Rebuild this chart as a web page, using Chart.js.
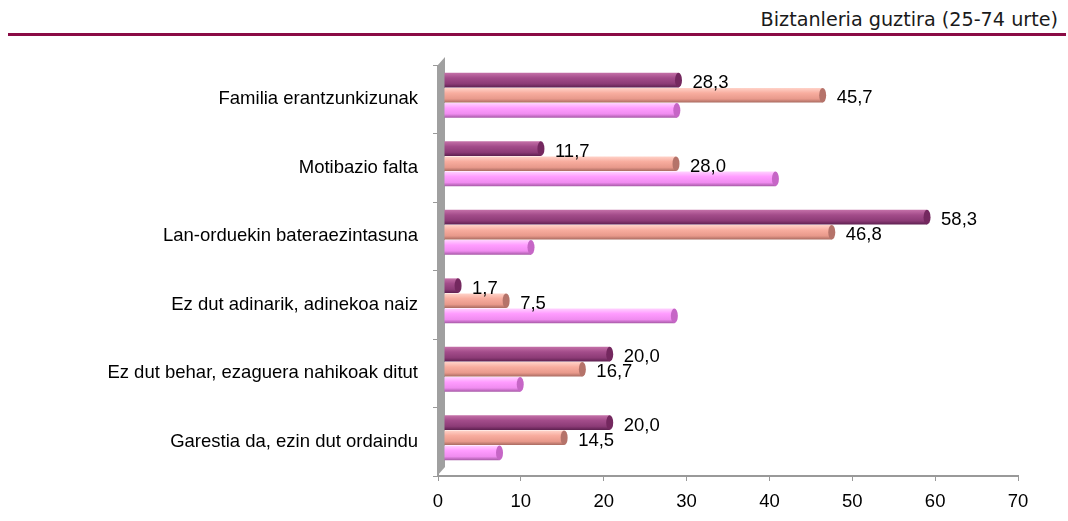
<!DOCTYPE html>
<html lang="eu">
<head>
    <meta charset="UTF-8">
    <title>Biztanleria guztira (25-74 urte)</title>
    <script src="https://cdn.jsdelivr.net/npm/chart.js"></script>
    <style>
        body { margin: 0; background: #fff; }
        .wrap { position: relative; width: 1068px; height: 521px; overflow: hidden; }
        .title {
            position: absolute; right: 10px; top: 9px;
            font-family: "DejaVu Sans", sans-serif; font-size: 19.2px; line-height: 22px;
            color: #1a1a1a;
        }
        .rule { position: absolute; left: 8px; top: 33px; width: 1058px; height: 3px; background: #8a0b45; }
        canvas { position: absolute; left: 0; top: 0; }
    </style>
</head>
<body>
<div class="wrap">
    <div class="title">Biztanleria guztira (25-74 urte)</div>
    <div class="rule"></div>
    <canvas id="chart" width="1068" height="521"></canvas>
</div>

<script>
// categories, top to bottom
const categories = [
    'Familia erantzunkizunak',
    'Motibazio falta',
    'Lan-orduekin bateraezintasuna',
    'Ez dut adinarik, adinekoa naiz',
    'Ez dut behar, ezaguera nahikoak ditut',
    'Garestia da, ezin dut ordaindu'
];

// three series (only the first two carry value labels in the original)
const series1 = [28.3, 11.7, 58.3, 1.7, 20.0, 20.0];
const series2 = [45.7, 28.0, 46.8, 7.5, 16.7, 14.5];
const series3 = [28.1, 40.0, 10.5, 27.8, 9.2, 6.7];

const xTicks = [0, 10, 20, 30, 40, 50, 60, 70];

// shading for the cylinder look: [top, upper, lower, bottom], cap
const palettes = [
    { stops: ['#c470a8', '#a34c8a', '#8c3b76', '#5e2050'], cap: '#74285f' },
    { stops: ['#ffd3c9', '#f8ad9f', '#e8998b', '#a86a60'], cap: '#b5736a' },
    { stops: ['#ffd2ff', '#ff9cff', '#f08cf0', '#a85aa8'], cap: '#c666c6' }
];

const DX = 6, DY = -4;   // depth shift of the bars

const fmt = v => v.toFixed(1).replace('.', ',');

const depthPlugin = {
    id: 'depth',
    beforeDatasetsDraw(chart) {
        const ctx = chart.ctx;
        const ca = chart.chartArea;

        // grey back wall
        ctx.save();
        ctx.fillStyle = '#a0a0a0';
        ctx.beginPath();
        ctx.moveTo(ca.left - 1, ca.top + 1);
        ctx.lineTo(ca.left + 7, ca.top - 8);
        ctx.lineTo(ca.left + 7, ca.bottom - 9);
        ctx.lineTo(ca.left - 1, ca.bottom);
        ctx.closePath();
        ctx.fill();
        ctx.restore();

        // gradients per bar
        chart.data.datasets.forEach((ds, i) => {
            const p = palettes[i];
            chart.getDatasetMeta(i).data.forEach(el => {
                const top = el.y - el.height / 2;
                const g = ctx.createLinearGradient(0, top, 0, top + el.height);
                g.addColorStop(0, p.stops[0]);
                g.addColorStop(0.35, p.stops[1]);
                g.addColorStop(0.75, p.stops[2]);
                g.addColorStop(1, p.stops[3]);
                el.options.backgroundColor = g;
            });
        });

        ctx.save();
        ctx.translate(DX, DY);
    },
    afterDatasetsDraw(chart) {
        const ctx = chart.ctx;
        // end caps of the cylinders
        chart.data.datasets.forEach((ds, i) => {
            chart.getDatasetMeta(i).data.forEach(el => {
                ctx.beginPath();
                ctx.ellipse(el.x, el.y, 3.5, el.height / 2, 0, 0, Math.PI * 2);
                ctx.fillStyle = palettes[i].cap;
                ctx.fill();
            });
        });
        ctx.restore();

        // value labels for the first two series
        ctx.save();
        ctx.font = '18.5px "Liberation Sans", Arial, sans-serif';
        ctx.fillStyle = '#000';
        ctx.textBaseline = 'middle';
        ctx.textAlign = 'left';
        [0, 1].forEach(i => {
            const ds = chart.data.datasets[i];
            chart.getDatasetMeta(i).data.forEach((el, j) => {
                ctx.fillText(fmt(ds.data[j]), el.x + 20, el.y - 1);
            });
        });
        ctx.restore();
    }
};

const baseColor = c => () => c;

new Chart(document.getElementById('chart'), {
    type: 'bar',
    data: {
        labels: categories,
        datasets: [
            { label: 'Serie 1', data: series1, backgroundColor: baseColor('#a34c8a') },
            { label: 'Serie 2', data: series2, backgroundColor: baseColor('#f8ad9f') },
            { label: 'Serie 3', data: series3, backgroundColor: baseColor('#ff9cff') }
        ]
    },
    options: {
        indexAxis: 'y',
        responsive: false,
        animation: false,
        layout: { padding: { top: 65, right: 50, bottom: 0, left: 0 } },
        datasets: {
            bar: { categoryPercentage: 0.66, barPercentage: 0.97, borderWidth: 0 }
        },
        plugins: {
            legend: { display: false },
            tooltip: { enabled: false }
        },
        scales: {
            x: {
                min: 0,
                max: 70,
                afterFit: s => { s.height = 45; },
                afterBuildTicks: s => { s.ticks = xTicks.map(v => ({ value: v })); },
                grid: { drawOnChartArea: false, tickLength: 5, color: '#999' },
                border: { color: '#999', width: 2 },
                ticks: {
                    padding: 10,
                    color: '#000',
                    font: { family: '"Liberation Sans", Arial, sans-serif', size: 18.5 }
                }
            },
            y: {
                afterFit: s => { s.width = 438; },
                grid: { drawOnChartArea: false, tickLength: 5, color: '#999', offset: true },
                border: { color: '#999', width: 1 },
                ticks: {
                    padding: 15,
                    color: '#000',
                    font: { family: '"Liberation Sans", Arial, sans-serif', size: 18.5 }
                }
            }
        }
    },
    plugins: [depthPlugin]
});
</script>
</body>
</html>
